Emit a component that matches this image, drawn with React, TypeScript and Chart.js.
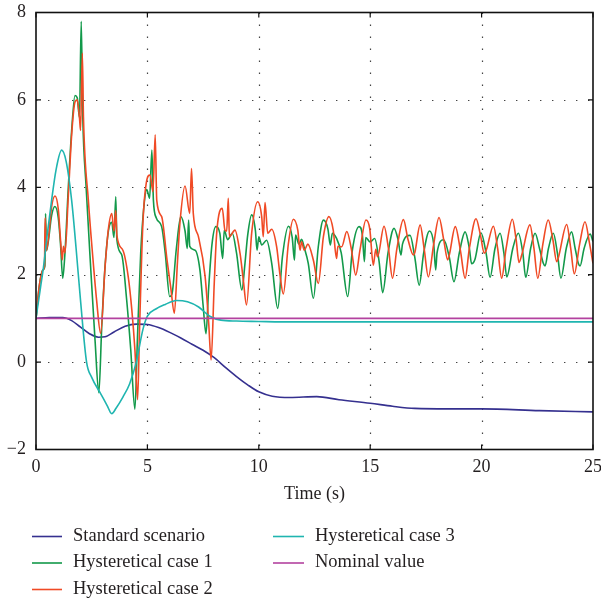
import React, { useEffect, useRef } from 'react';
import { Chart, registerables } from 'chart.js';

Chart.register(...registerables);

const xTicks = [0, 5, 10, 15, 20, 25];
const yTicks = [-2, 0, 2, 4, 6, 8];
const axisTitle = 'Time (s)';
const seriesNames = ['Standard scenario', 'Hysteretical case 1', 'Hysteretical case 2', 'Hysteretical case 3', 'Nominal value'];
const seriesColors = ['#35308f', '#12994a', '#f04a25', '#1fb5b0', '#b3429f'];

const standardTime = [0, 0.6, 1.2, 1.6, 2.0, 2.4, 2.8, 3.1, 3.5, 4.0, 4.5, 5.0, 5.5, 6.0, 6.5, 7.0, 7.5, 8.0, 8.5, 9.0, 9.5, 10.0, 10.6, 11.4, 12.6, 13.6, 15.0, 16.0, 17.0, 18.5, 20.0, 22.6, 25];
const standardValues = [1.0, 1.02, 1.02, 0.95, 0.8, 0.65, 0.57, 0.58, 0.69, 0.82, 0.87, 0.86, 0.79, 0.68, 0.55, 0.41, 0.27, 0.1, -0.12, -0.33, -0.52, -0.68, -0.78, -0.81, -0.79, -0.86, -0.94, -1.01, -1.06, -1.07, -1.07, -1.11, -1.14];

const case1Time = [0, 0.15, 0.3, 0.4, 0.43, 0.47, 0.55, 0.7, 0.85, 1.0, 1.1, 1.2, 1.3, 1.45, 1.6, 1.75, 1.85, 1.95, 2.03, 2.1, 2.25, 2.45, 2.65, 2.82, 2.95, 3.1, 3.25, 3.4, 3.5, 3.58, 3.63, 3.85, 4.07, 4.25, 4.44, 4.55, 4.7, 4.85, 4.97, 5.1, 5.2, 5.27, 5.4, 5.64, 5.8, 6.0, 6.1, 6.3, 6.5, 6.69, 6.79, 6.85, 6.9, 7.14, 7.36, 7.5, 7.63, 7.75, 7.9, 8.07, 8.25, 8.38, 8.45, 8.6, 8.81, 9.0, 9.24, 9.38, 9.5, 9.68, 9.85, 9.92, 10.0, 10.13, 10.35, 10.58, 10.85, 11.06, 11.33, 11.5, 11.6, 11.65, 11.8, 11.92, 12.05, 12.22, 12.45, 12.67, 12.9, 13.1, 13.21, 13.3, 13.49, 13.7, 13.99, 14.2, 14.5, 14.65, 14.74, 14.8, 15.0, 15.2, 15.4, 15.56, 15.8, 16.07, 16.25, 16.38, 16.45, 16.79, 17.0, 17.2, 17.4, 17.66, 17.85, 17.94, 18.0, 18.3, 18.55, 18.76, 19.0, 19.26, 19.45, 19.55, 19.7, 19.97, 20.2, 20.38, 20.6, 20.83, 21.0, 21.13, 21.4, 21.65, 21.85, 21.98, 22.2, 22.4, 22.6, 22.77, 22.85, 23.0, 23.22, 23.4, 23.56, 23.8, 24.04, 24.2, 24.34, 24.42, 24.6, 24.87, 25.0];
const case1Values = [1.0, 1.75, 2.1, 2.2, 3.4, 2.55, 2.75, 3.35, 3.56, 3.3, 2.7, 1.92, 2.5, 4.0, 5.3, 6.1, 6.05, 5.6, 7.8, 5.6, 4.0, 2.2, 0.5, -0.7, 0.8, 2.2, 3.0, 3.2, 2.85, 3.78, 2.8, 2.45, 1.42, 0.3, -1.08, 0.5, 2.5, 3.6, 3.95, 3.75, 4.85, 3.7, 3.3, 3.1, 2.5, 1.5, 1.55, 2.6, 3.33, 3.0, 2.6, 3.25, 2.65, 2.56, 2.1, 1.3, 0.65, 1.7, 2.7, 3.1, 2.95, 2.37, 3.02, 2.8, 2.95, 2.5, 1.65, 2.26, 2.9, 3.37, 3.0, 2.56, 2.87, 2.68, 2.79, 2.26, 1.23, 2.41, 3.11, 2.85, 2.33, 2.91, 2.7, 2.81, 2.6, 2.26, 1.46, 2.64, 3.25, 3.05, 2.68, 2.95, 2.83, 2.5, 1.5, 2.56, 3.1, 2.9, 2.3, 2.85, 2.75, 2.83, 2.3, 1.59, 2.5, 3.06, 2.8, 2.45, 2.7, 2.9, 2.4, 1.76, 2.5, 3.0, 2.7, 2.11, 2.5, 2.8, 2.4, 1.84, 2.5, 2.98, 2.6, 2.25, 2.35, 2.96, 2.5, 1.94, 2.6, 2.95, 2.5, 1.95, 2.6, 2.95, 2.5, 1.94, 2.6, 2.95, 2.6, 2.26, 2.2, 2.6, 2.95, 2.5, 1.92, 2.6, 2.98, 2.6, 2.26, 2.2, 2.6, 2.93, 2.76];

const case2Time = [0, 0.15, 0.3, 0.38, 0.41, 0.46, 0.55, 0.7, 0.85, 1.0, 1.1, 1.18, 1.23, 1.3, 1.45, 1.6, 1.75, 1.85, 1.95, 2.0, 2.08, 2.13, 2.35, 2.55, 2.72, 2.9, 3.1, 3.25, 3.4, 3.5, 3.58, 3.63, 3.9, 4.14, 4.3, 4.44, 4.56, 4.65, 4.8, 4.95, 5.12, 5.25, 5.35, 5.42, 5.64, 5.88, 6.05, 6.21, 6.35, 6.46, 6.69, 6.9, 6.98, 7.06, 7.29, 7.59, 7.75, 7.86, 8.0, 8.11, 8.36, 8.48, 8.56, 8.63, 8.68, 8.93, 9.16, 9.3, 9.45, 9.68, 9.95, 10.13, 10.2, 10.28, 10.4, 10.58, 10.8, 10.95, 11.1, 11.33, 11.55, 11.75, 11.85, 11.92, 12.04, 12.2, 12.45, 12.67, 12.9, 13.15, 13.34, 13.49, 13.55, 13.72, 13.95, 14.15, 14.35, 14.54, 14.81, 14.98, 15.14, 15.25, 15.33, 15.62, 15.82, 16.0, 16.2, 16.49, 16.7, 16.94, 17.0, 17.24, 17.42, 17.61, 17.85, 18.09, 18.3, 18.48, 18.55, 18.82, 19.05, 19.26, 19.45, 19.75, 19.95, 20.12, 20.2, 20.53, 20.72, 20.9, 21.1, 21.38, 21.55, 21.68, 21.8, 22.17, 22.35, 22.52, 22.75, 22.99, 23.2, 23.37, 23.45, 23.82, 24.0, 24.16, 24.4, 24.64, 24.85, 25.0];
const case2Values = [1.0, 1.75, 2.1, 2.2, 3.3, 2.55, 2.8, 3.55, 3.8, 3.5, 2.8, 2.34, 2.65, 2.5, 3.8, 5.2, 5.95, 6.0, 5.6, 5.3, 7.07, 5.6, 3.7, 2.4, 1.42, 0.66, 2.18, 3.05, 3.4, 3.0, 3.47, 2.9, 2.56, 1.95, 1.2, 0.28, -0.86, 0.8, 3.2, 4.1, 4.28, 3.9, 5.2, 3.7, 3.33, 2.34, 1.7, 1.12, 2.3, 3.18, 4.03, 3.4, 4.43, 3.4, 2.87, 1.96, 0.9, 0.05, 1.8, 2.95, 3.52, 3.02, 3.0, 3.75, 2.87, 3.02, 2.48, 1.9, 1.31, 2.95, 3.67, 3.33, 2.87, 3.65, 2.95, 3.04, 2.64, 2.0, 1.56, 2.72, 3.27, 3.02, 2.56, 2.75, 2.56, 2.7, 2.33, 1.8, 2.87, 3.33, 3.02, 2.37, 2.65, 2.64, 2.99, 2.6, 1.99, 2.56, 3.25, 3.05, 2.22, 2.58, 2.41, 3.11, 2.6, 1.92, 2.6, 3.26, 2.8, 2.45, 2.5, 3.14, 2.6, 1.95, 2.7, 3.31, 2.8, 2.34, 2.45, 3.1, 2.55, 1.92, 2.6, 3.28, 2.9, 2.49, 2.55, 3.11, 2.6, 1.92, 2.6, 3.27, 2.8, 2.28, 2.45, 3.14, 2.6, 1.92, 2.7, 3.25, 2.8, 2.3, 2.4, 3.15, 2.6, 2.02, 2.7, 3.21, 2.7, 2.26];

const case3Time = [0, 0.2, 0.33, 0.5, 0.7, 0.9, 1.15, 1.35, 1.6, 1.8, 2.0, 2.27, 2.5, 2.9, 3.2, 3.4, 3.6, 3.9, 4.2, 4.5, 4.8, 5.0, 5.4, 5.8, 6.3, 6.8, 7.3, 7.8, 8.3, 9.0, 10.0, 11.0, 25];
const case3Values = [1.0, 1.7, 2.15, 2.9, 3.7, 4.4, 4.85, 4.6, 3.7, 2.6, 1.4, 0.0, -0.35, -0.72, -1.0, -1.18, -1.05, -0.8, -0.5, 0.0, 0.75, 1.05, 1.22, 1.32, 1.41, 1.38, 1.26, 1.05, 0.96, 0.94, 0.93, 0.92, 0.92];

const nominalTime = [0, 25];
const nominalValues = [1, 1];

const toPoints = (t: number[], v: number[]) => t.map((x, i) => ({ x, y: v[i] }));

const FONT = '"Liberation Serif", "Times New Roman", serif';
const TEXT = '#231f20';

const framePlugin = {
  id: 'frame',
  beforeDatasetsDraw(chart: any) {
    const { ctx, chartArea: a, scales } = chart;
    ctx.save();
    ctx.strokeStyle = '#444';
    ctx.lineWidth = 1.2;
    ctx.setLineDash([1.4, 10.6]);
    xTicks.forEach((t) => {
      if (t === xTicks[0] || t === xTicks[xTicks.length - 1]) return;
      const px = Math.round(scales.x.getPixelForValue(t)) + 0.5;
      ctx.beginPath();
      ctx.moveTo(px, a.top);
      ctx.lineTo(px, a.bottom);
      ctx.stroke();
    });
    yTicks.forEach((v) => {
      if (v === yTicks[0] || v === yTicks[yTicks.length - 1]) return;
      const py = Math.round(scales.y.getPixelForValue(v)) + 0.5;
      ctx.beginPath();
      ctx.moveTo(a.left, py);
      ctx.lineTo(a.right, py);
      ctx.stroke();
    });
    ctx.restore();
  },
  afterDatasetsDraw(chart: any) {
    const { ctx, chartArea: a, scales } = chart;
    ctx.save();
    ctx.strokeStyle = '#111';
    ctx.lineWidth = 1.6;
    ctx.setLineDash([]);
    ctx.strokeRect(a.left, a.top, a.right - a.left, a.bottom - a.top);
    ctx.lineWidth = 1.2;
    const L = 5;
    xTicks.forEach((t) => {
      const px = scales.x.getPixelForValue(t);
      ctx.beginPath();
      ctx.moveTo(px, a.bottom);
      ctx.lineTo(px, a.bottom - L);
      ctx.moveTo(px, a.top);
      ctx.lineTo(px, a.top + L);
      ctx.stroke();
    });
    yTicks.forEach((v) => {
      const py = scales.y.getPixelForValue(v);
      ctx.beginPath();
      ctx.moveTo(a.left, py);
      ctx.lineTo(a.left + L, py);
      ctx.moveTo(a.right, py);
      ctx.lineTo(a.right - L, py);
      ctx.stroke();
    });
    ctx.restore();
  },
  afterDraw(chart: any) {
    const { ctx, chartArea: a } = chart;
    ctx.save();
    ctx.fillStyle = TEXT;
    ctx.font = `18px ${FONT}`;
    ctx.textAlign = 'center';
    ctx.textBaseline = 'middle';
    ctx.fillText(axisTitle, (a.left + a.right) / 2, 494);
    const colX = [[32, 62, 73], [273, 304, 315]];
    const rowY = [536, 562.5, 589];
    ctx.font = `18.5px ${FONT}`;
    ctx.textAlign = 'left';
    seriesNames.forEach((name, k) => {
      const col = k < 3 ? 0 : 1;
      const row = k < 3 ? k : k - 3;
      const [x0, x1, tx] = colX[col];
      const y = rowY[row];
      ctx.strokeStyle = seriesColors[k];
      ctx.lineWidth = 1.6;
      ctx.beginPath();
      ctx.moveTo(x0, y + 0.5);
      ctx.lineTo(x1, y + 0.5);
      ctx.stroke();
      ctx.fillText(name, tx, y);
    });
    ctx.restore();
  },
};

export default function App() {
  const ref = useRef<HTMLCanvasElement>(null);
  useEffect(() => {
    document.body.style.margin = '0';
    const canvas = ref.current!;
    const mk = (i: number, t: number[], v: number[]) => ({
      label: seriesNames[i],
      data: toPoints(t, v),
      borderColor: seriesColors[i],
      backgroundColor: seriesColors[i],
      borderWidth: 1.6,
      pointRadius: 0,
      fill: false,
      cubicInterpolationMode: 'monotone' as const,
    });
    const chart = new Chart(canvas, {
      type: 'line',
      data: {
        datasets: [
          mk(4, nominalTime, nominalValues),
          mk(3, case3Time, case3Values),
          mk(2, case2Time, case2Values),
          mk(1, case1Time, case1Values),
          mk(0, standardTime, standardValues),
        ],
      },
      options: {
        responsive: false,
        animation: false,
        devicePixelRatio: 1,
        layout: { padding: { left: 0, top: 12.5, right: 8, bottom: 0 } },
        plugins: { legend: { display: false }, tooltip: { enabled: false } },
        scales: {
          x: {
            type: 'linear',
            min: 0,
            max: 25,
            afterBuildTicks: (s: any) => { s.ticks = xTicks.map((value) => ({ value })); },
            afterFit: (s: any) => { s.height = 151.5; s.paddingLeft = 0; s.paddingRight = 0; },
            grid: { display: false, drawTicks: false },
            border: { display: false },
            ticks: { color: TEXT, font: { family: FONT, size: 18 }, padding: 7, maxRotation: 0 },
          },
          y: {
            type: 'linear',
            min: -2,
            max: 8,
            afterBuildTicks: (s: any) => { s.ticks = yTicks.map((value) => ({ value })); },
            afterFit: (s: any) => { s.width = 36; s.paddingTop = 0; s.paddingBottom = 0; },
            grid: { display: false, drawTicks: false },
            border: { display: false },
            ticks: {
              color: TEXT,
              font: { family: FONT, size: 18 },
              padding: 10,
              callback: (v: any) => (Number(v) < 0 ? '\u2212' + Math.abs(Number(v)) : String(v)),
            },
          },
        },
      },
      plugins: [framePlugin],
    });
    return () => chart.destroy();
  }, []);
  return (
    <canvas
      ref={ref}
      width={601}
      height={601}
      style={{ position: 'fixed', left: 0, top: 0, width: 601, height: 601, background: '#fff' }}
    />
  );
}
